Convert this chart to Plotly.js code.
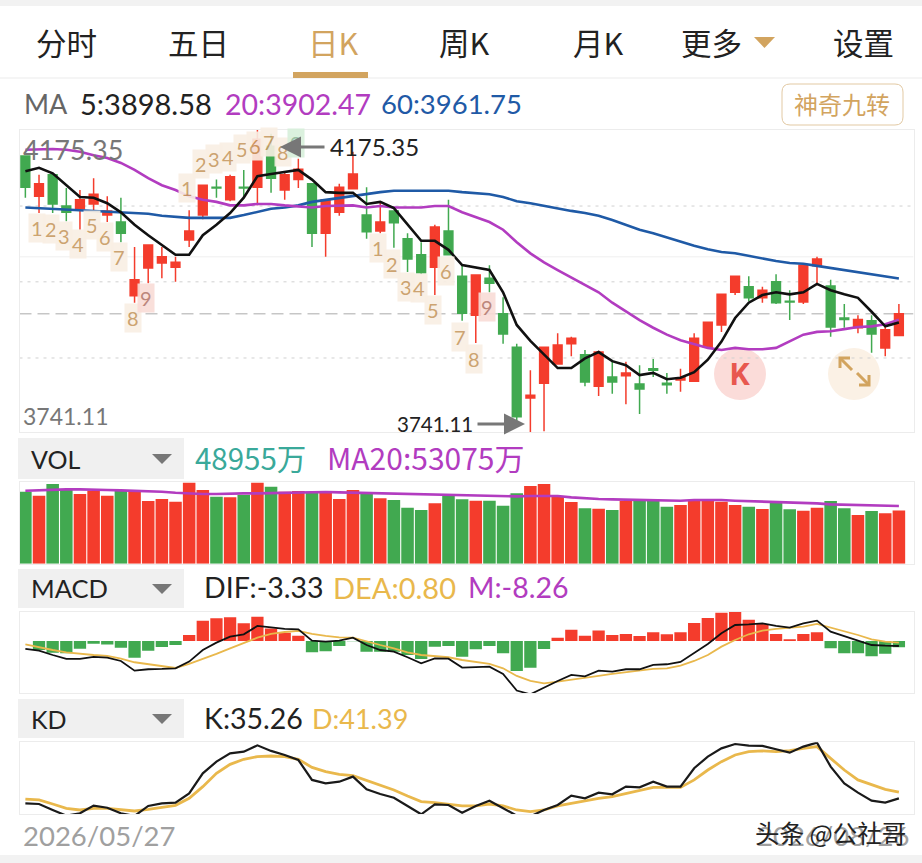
<!DOCTYPE html>
<html>
<head>
<meta charset="utf-8">
<script src="https://cdn.plot.ly/plotly-3.0.1.min.js"></script>
<style>
  html, body { margin: 0; padding: 0; background: #fff; }
  #chart { width: 922px; height: 863px; }
</style>
</head>
<body>
<div id="chart"></div>
<script>
// Data
const opens = [4138,4080,4111,4066,4062,4069,4053,4043,3937,3977,3984,3978,4017,4053,4093,4075,4093,4093,4152,4089,4104,4098,4027,4057,4091,4053,4030,4059,4019,3996,3978,4030,3965,3909,3962,3911,3863,3790,3811,3839,3868,3852,3807,3820,3822,3810,3832,3811,3816,3814,3863,3895,3942,3950,3934,3957,3929,3928,3980,3951,3905,3891,3901,3862,3880];
const highs = [4138,4111,4111,4092,4089,4106,4080,4078,4007,4010,4007,3993,4060,4096,4104,4111,4118,4175.35,4170,4115,4134,4098,4075,4098,4144,4093,4072,4060,4027,4014,4039,4075,3981,3967,3981,3935,3868,3830,3863,3883,3878,3859,3858,3843,3842,3837,3846,3826,3832,3883,3899,3939,3965,3965,3950,3968,3945,3981,3993,3960,3925,3909,3909,3895,3925];
const lows = [4078,4056,4056,4044,4032,4060,4043,4014,3927,3955,3962,3957,4007,4047,4078,4073,4079,4067,4085,4075,4092,4007,3993,4052,4091,4019,4027,4006,3971,3968,3938,3996,3901,3869,3942,3868,3755,3741.11,3742,3839,3850,3807,3793,3796,3781,3767,3820,3796,3799,3814,3863,3885,3938,3929,3927,3925,3902,3925,3952,3878,3891,3883,3855,3850,3880];
const closes = [4093,4098,4069,4057,4075,4083,4059,4027,3960,4010,3993,3985,4030,4096,4092,4108,4092,4162,4106,4111,4119,4027,4075,4093,4112,4029,4043,4042,3990,3970,4036,3996,3912,3967,3955,3882,3763,3794,3863,3866,3876,3813,3856,3813,3826,3803,3830,3809,3819,3876,3899,3939,3965,3934,3945,3927,3928,3981,3990,3892,3903,3903,3882,3888,3911];

const ma5 = [4116,4121,4113,4096,4079,4078,4070,4057,4039,4024,4010,3996,3996,4024,4039,4056,4078,4109,4112,4115,4118,4104,4086,4085,4085,4069,4072,4063,4039,4016,4016,4003,3981,3977,3974,3942,3895,3872,3852,3833,3833,3847,3856,3843,3837,3823,3826,3817,3819,3827,3845,3871,3905,3927,3938,3942,3939,3942,3954,3945,3939,3934,3914,3893,3898.58];
const ma20 = [4147,4148,4148,4147,4144,4139,4135,4128,4118,4106,4096,4089,4080,4075,4072,4067,4067,4069,4069,4067,4066,4064,4066,4067,4067,4064,4066,4064,4064,4064,4066,4066,4057,4050,4043,4032,4014,3998,3985,3974,3963,3952,3942,3927,3914,3902,3891,3881,3873,3868,3862,3859,3862,3860,3860,3862,3871,3881,3885,3886,3889,3892,3893,3896,3902.47];
const ma60 = [4064,4063,4063,4062,4060,4060,4059,4057,4056,4055,4052,4050,4049,4049,4049,4049,4053,4057,4062,4064,4067,4072,4075,4078,4080,4083,4086,4088,4088,4088,4088,4088,4086,4085,4083,4079,4073,4070,4066,4063,4059,4056,4052,4046,4039,4032,4027,4021,4014,4009,4004,4000,3998,3994,3991,3987,3984,3983,3980,3977,3973,3970,3967,3964,3961.75];

// volume, in 万
const volumes = [66312,62628,73373,67847,64163,67233,62628,66926,67233,57716,59558,57102,74601,67847,61707,61093,63242,74601,70917,66312,66926,66312,66312,59558,67847,64777,60172,58637,51576,49427,55567,62628,59251,58023,58023,53418,64777,71531,73373,61707,56795,50962,50655,49427,57716,58637,59251,52497,54032,58637,59251,57102,54032,52497,50348,57716,50041,48813,51576,57716,50962,44822,48506,46357,48955];
const volMa20 = [67233,67847,68154,68461,68461,68461,67847,67540,67233,66926,66312,65391,64470,64163,64163,64777,64777,64777,65084,65391,65698,66005,66005,65698,65391,65084,64777,64470,64163,63856,63549,63242,63242,62628,62321,62014,62014,62321,62321,62321,61093,60172,59558,59251,58944,58637,58023,58023,58023,58637,58944,58637,58023,57716,57409,57102,56795,56488,55567,54646,54339,54339,54032,53725,53075];

const macdBars = [0,-11.7,-15.2,-16.1,-10,-3.5,-4.4,-8.7,-21.8,-12.6,-7.8,-5.2,7.8,26.5,29.6,30.9,23.1,31.8,16.5,10.9,7,-14.8,-13.5,-6.5,-0.4,-13.9,-13.9,-13.9,-18.3,-23.5,-7.4,-6.5,-20.4,-10.9,-6.5,-16.1,-39.2,-34.8,-10.4,4.4,14.8,7,13.9,7.8,9.1,6.5,11.3,8.7,11.3,23.5,30,37,37.8,27.8,22.2,9.1,2.2,9.1,11.3,-9.6,-16.1,-16.1,-20,-16.5,-8.26];
const dif = [-7,-9.1,-14.5,-19.4,-19.4,-16.9,-17.8,-21.9,-33.9,-32.2,-31.8,-31,-22.7,-8.3,0.8,8.3,11.2,21.5,19.8,17.8,17.3,3.3,2.1,3.3,7,-2.1,-8.3,-10.3,-17.3,-24.8,-18.6,-19,-30.1,-29.7,-28.9,-38,-58.6,-63.2,-54.5,-46.7,-39.2,-40.9,-33.9,-35.1,-32.2,-32.2,-26.8,-26,-23.1,-12.4,-0.8,12.4,22.7,23.5,24.8,21.5,19.4,24.8,28.1,14.5,9.1,3.3,-2.1,-2.9,-3.33];
const dea = [-1.2,-5,-8.3,-11.2,-13.2,-14.5,-15.7,-19,-23.5,-26,-28.1,-30.6,-25.6,-19.8,-13.2,-6.2,0,7,11.6,14,15.3,11.6,9.1,7.4,7,2.1,-2.1,-6.2,-11.2,-14.5,-15.7,-17.3,-20.7,-22.7,-25.6,-31,-40.5,-46.7,-49.6,-47.5,-45.4,-43.4,-40.5,-38,-35.9,-34.3,-31.8,-31,-27.7,-21.9,-14.5,-4.1,4.1,11.2,15.7,17.8,19,20.6,24,19.4,15.7,10.3,5,2.1,0.8];

const kLine = [30.4,29.8,24,18.5,20.8,28.2,26.2,20.8,18.2,27.9,30.4,31.1,40.1,59.5,70.8,78.9,80.5,86.6,81.2,77.3,72.4,53.1,49.8,51.4,56.3,44,39.5,35.9,27.9,19.8,29.5,28.8,21.4,27.9,33,25.6,18.5,17.8,24,28.8,37.9,35.3,40.8,39.2,46.6,45.9,51.4,46.6,46.6,64.4,75.7,83.7,87.9,86.3,86,82.8,79.5,85.4,89.2,66,49.8,40.8,33,31.1,35.26];
const dLine = [34.6,33.7,29.8,25.6,24,25.6,25.6,24,23,24.6,26.6,28.5,35.3,46.6,59.5,68.2,73.1,75.7,76.3,75.7,73.1,65.3,61.1,58.5,57.2,52.4,48.2,43.4,37.5,32.1,31.1,29.8,27.9,27.9,29.8,27.9,24,22.4,24,27.9,30.4,33,35.3,36.9,40.1,42.7,45.9,45.9,45.9,53.1,62.7,70.8,77.3,80.5,81.2,80.5,81.5,83.7,85.4,74,62.7,53.1,48.2,44,41.39];

// 神奇九转 counters: candle index, price, text
const nineIdx = [1,2,3,4,5,6,7,8,9, 12,13,14,15,16,17,18,19,20, 26,27,28,29,30,31,32,33,34];
const ninePrice = [4034,4033,4023,4011,4039,4021,3993,3905,3934, 4092,4126,4134,4136,4148,4152,4158,4144,4157, 4006,3983,3950,3948,3916,3973,3878,3846,3921];
const nineText = ["1","2","3","4","5","6","7","8","9", "1","2","3","4","5","6","7","8","9", "1","2","3","4","5","6","7","8","9"];

const gridPrices = [4066,3957,3847.5];
const tabs = ["分时","五日","日K","周K","月K","更多","设置"];
const tabCentres = [66,198,333,464,598,711,863];

const W = 922, H = 863;
const RED = "#f43c2c", GREEN = "#41a950", TAN = "#d2a45f", GOLD = "#e9b84c";
const PURPLE = "#b23cc0", BLUE = "#1f5aa6", INK = "#222";
const CJK = '"Noto Sans CJK SC", sans-serif';
const NUM = 'Lato, Roboto, "Noto Sans CJK SC", sans-serif';

const xs = opens.map((_, i) => i);
const barColors = opens.map((o, i) => (closes[i] >= o ? RED : GREEN));

// pixel helpers for the page furniture
const px = (x) => x / W;
const py = (y) => 1 - y / H;
const dom = (top, bottom) => [py(bottom), py(top)];

function text(x, y, str, color, size, anchor, family, weight) {
  // annotations carry a small pad, take it back so x is where the ink starts
  const side = anchor || "left";
  const pad = side === "left" ? -2.5 : side === "right" ? 2.5 : 0;
  return {
    xref: "paper", yref: "paper", x: px(x + pad), y: py(y), text: str,
    showarrow: false, xanchor: side, yanchor: "middle",
    font: { color, size, family: family || NUM, weight: weight || 400 },
  };
}

function box(x0, y0, x1, y1, fill, line) {
  return {
    type: "rect", xref: "paper", yref: "paper", layer: "below",
    x0: px(x0), x1: px(x1), y0: py(y0), y1: py(y1),
    fillcolor: fill, line: { width: line ? 1 : 0, color: line || fill },
  };
}

function circle(cx, cy, r, fill) {
  return {
    type: "circle", xref: "paper", yref: "paper", layer: "below",
    x0: px(cx - r), x1: px(cx + r), y0: py(cy + r), y1: py(cy - r),
    fillcolor: fill, line: { width: 0 },
  };
}

function pathOf(points, fill, line, width) {
  const d = points.map((p, i) => (i ? "L" : "M") + px(p[0]) + "," + py(p[1])).join(" ");
  return {
    type: "path", xref: "paper", yref: "paper", path: d + (fill ? " Z" : ""),
    fillcolor: fill || "rgba(0,0,0,0)", line: { width: line ? width : 0, color: line || fill },
  };
}

function gridLine(price, dash, color) {
  return {
    type: "line", xref: "x", yref: "y", layer: "below",
    x0: -0.43, x1: 65.07, y0: price, y1: price,
    line: { color, width: 1, dash },
  };
}

const traces = [
  {
    type: "candlestick", x: xs, open: opens, high: highs, low: lows, close: closes,
    xaxis: "x", yaxis: "y", whiskerwidth: 0,
    increasing: { line: { color: RED, width: 1.5 }, fillcolor: RED },
    decreasing: { line: { color: GREEN, width: 1.5 }, fillcolor: GREEN },
  },
  { type: "scatter", mode: "lines", x: xs, y: ma60, xaxis: "x", yaxis: "y", line: { color: BLUE, width: 2.6 } },
  { type: "scatter", mode: "lines", x: xs, y: ma20, xaxis: "x", yaxis: "y", line: { color: PURPLE, width: 2.6 } },
  { type: "scatter", mode: "lines", x: xs, y: ma5, xaxis: "x", yaxis: "y", line: { color: "#111", width: 2.6 } },

  { type: "bar", x: xs, y: volumes, xaxis: "x2", yaxis: "y2", width: 0.92, marker: { color: barColors } },
  { type: "scatter", mode: "lines", x: xs, y: volMa20, xaxis: "x2", yaxis: "y2", line: { color: PURPLE, width: 2.6 } },

  { type: "bar", x: xs, y: macdBars, xaxis: "x3", yaxis: "y3", width: 0.9,
    marker: { color: macdBars.map((v) => (v >= 0 ? RED : GREEN)) } },
  { type: "scatter", mode: "lines", x: xs, y: dea, xaxis: "x3", yaxis: "y4", cliponaxis: false, line: { color: GOLD, width: 1.8 } },
  { type: "scatter", mode: "lines", x: xs, y: dif, xaxis: "x3", yaxis: "y4", cliponaxis: false, line: { color: "#111", width: 1.8 } },

  { type: "scatter", mode: "lines", x: xs, y: dLine, xaxis: "x4", yaxis: "y5", cliponaxis: false, line: { color: GOLD, width: 2.8 } },
  { type: "scatter", mode: "lines", x: xs, y: kLine, xaxis: "x4", yaxis: "y5", cliponaxis: false, line: { color: "#1a1a1a", width: 2.2 } },
];

const xBase = {
  domain: [px(19.5), px(913.5)], range: [-0.43, 65.07], showticklabels: false, ticks: "",
  showgrid: false, zeroline: false, showline: true, mirror: true, linecolor: "#ececec", fixedrange: true,
};
const yBase = {
  showticklabels: false, ticks: "", showgrid: false, zeroline: false,
  showline: true, mirror: true, linecolor: "#ececec", fixedrange: true,
};

// counters on the candles
const nineNotes = nineIdx.map((idx, i) => {
  const isNine = nineText[i] === "9";
  let bg = "#f9efe4", col = "#c79a62";
  if (isNine && idx === 20) { bg = "#d8f0db"; col = "#8fb998"; }
  else if (isNine) { bg = "#f9dcd6"; col = "#b57a6e"; }
  return {
    xref: "x", yref: "y", x: idx, y: ninePrice[i], text: nineText[i], showarrow: false, xshift: -2,
    bgcolor: bg, borderpad: 2, opacity: 0.9, font: { color: col, size: 20, family: NUM },
  };
});

const arrowNotes = [
  { xref: "paper", yref: "paper", x: px(280), y: py(147), axref: "pixel", ayref: "pixel", ax: 46, ay: 0, text: "",
    showarrow: true, arrowhead: 2, arrowsize: 1.4, arrowwidth: 3, arrowcolor: "#777" },
  { xref: "paper", yref: "paper", x: px(525), y: py(424), axref: "pixel", ayref: "pixel", ax: -49, ay: 0, text: "",
    showarrow: true, arrowhead: 2, arrowsize: 1.4, arrowwidth: 3, arrowcolor: "#777" },
];

const tabNotes = tabs.map((t, i) => text(tabCentres[i], 41.5, t, t === "日K" ? TAN : INK, 30.5, "center", CJK));

const headerNotes = [
  text(24, 104, "MA", "#666", 27),
  text(80, 104, "5:3898.58", INK, 29),
  text(225, 104, "20:3902.47", PURPLE, 28.5),
  text(381, 104, "60:3961.75", BLUE, 27.5),
  text(842, 104, "神奇九转", TAN, 24, "center", CJK),

  text(23, 150, "4175.35", "#777", 27),
  text(23, 416, "3741.11", "#777", 23),
  text(330, 147, "4175.35", INK, 24),
  text(397, 424, "3741.11", INK, 20.5),
  text(740, 374, "K", "#e8584f", 31, "center", "Roboto", 700),

  text(31, 459, "VOL", INK, 25),
  text(195, 457, "48955万", "#3aa99a", 29.5, "left", CJK),
  text(327, 457, "MA20:53075万", PURPLE, 30, "left", CJK),

  text(31, 588, "MACD", INK, 25.5),
  text(204, 587, "DIF:-3.33", INK, 28.5),
  text(333, 587, "DEA:0.80", GOLD, 29),
  text(468, 587, "M:-8.26", PURPLE, 28.5),

  text(31, 719, "KD", INK, 25),
  text(204, 718, "K:35.26", INK, 28.5),
  text(312, 718, "D:41.39", GOLD, 27),

  text(23, 835, "2026/05/27", "#a0a0a0", 27.5),
  text(908, 835, "2026/08/26", "#a0a0a0", 27.5, "right"),
  text(905, 832, "头条 @公社哥", "#222", 24.5, "right", CJK),
];

const furniture = [
  box(0, 0, W, 6, "#f2f2f2"),
  box(0, 855, W, H, "#f2f2f2"),
  box(0, 77.5, W, 78.5, "#ececec"),
  box(293, 72, 368, 78, TAN),
  box(18, 438, 184, 479, "#f0f0f0"),
  box(18, 569, 184, 608, "#f0f0f0"),
  box(18, 699, 184, 738, "#f0f0f0"),
  {
    type: "path", xref: "paper", yref: "paper", layer: "below", fillcolor: "#fff",
    line: { color: "#e2c9a3", width: 1 },
    path: "M" + px(790) + "," + py(84) + " L" + px(895) + "," + py(84) +
      " Q" + px(903) + "," + py(84) + " " + px(903) + "," + py(92) +
      " L" + px(903) + "," + py(117) + " Q" + px(903) + "," + py(125) + " " + px(895) + "," + py(125) +
      " L" + px(790) + "," + py(125) + " Q" + px(782) + "," + py(125) + " " + px(782) + "," + py(117) +
      " L" + px(782) + "," + py(92) + " Q" + px(782) + "," + py(84) + " " + px(790) + "," + py(84) + " Z",
  },
  pathOf([[754, 37], [775, 37], [764.5, 48]], TAN),
  pathOf([[152, 454], [172, 454], [162, 464]], "#777"),
  pathOf([[152, 584], [172, 584], [162, 594]], "#777"),
  pathOf([[152, 714], [172, 714], [162, 724]], "#777"),
  circle(740, 374, 26, "#fbdcd9"),
  circle(854, 374, 26, "#fbf1e5"),
  pathOf([[840, 368], [840, 358], [850, 358]], null, TAN, 3),
  pathOf([[840, 358], [852, 370]], null, TAN, 3),
  pathOf([[869, 375], [869, 385], [859, 385]], null, TAN, 3),
  pathOf([[857, 373], [869, 385]], null, TAN, 3),
  ...gridPrices.map((p) => gridLine(p, "3px,5px", "#d0d0d0")),
  gridLine(3993, "solid", "#efefef"),
  gridLine(3911, "12px,6px", "#aaa"),
];

const layout = {
  width: W, height: H, margin: { l: 0, r: 0, t: 0, b: 0 },
  paper_bgcolor: "#fff", plot_bgcolor: "#fff",
  showlegend: false, hovermode: false, boxgap: 0.08, barmode: "overlay",
  xaxis: { ...xBase, anchor: "y", rangeslider: { visible: false } },
  xaxis2: { ...xBase, anchor: "y2" },
  xaxis3: { ...xBase, anchor: "y3" },
  xaxis4: { ...xBase, anchor: "y5" },
  yaxis: { ...yBase, anchor: "x", domain: dom(130, 432), range: [3741.07, 4175.35] },
  yaxis2: { ...yBase, anchor: "x2", domain: dom(481.7, 563.7), range: [0, 75522] },
  yaxis3: { ...yBase, anchor: "x3", domain: dom(611.7, 693.3), range: [-68.3, 38.3] },
  yaxis4: { ...yBase, anchor: "x3", overlaying: "y3", domain: dom(611.7, 693.3), range: [-62, 39.2], showline: false },
  yaxis5: { ...yBase, anchor: "x4", domain: dom(742.3, 814), range: [20.1, 89.55] },
  shapes: furniture,
  annotations: [...nineNotes, ...arrowNotes, ...tabNotes, ...headerNotes],
};

Plotly.newPlot("chart", traces, layout, { displayModeBar: false, staticPlot: true });
</script>
</body>
</html>
